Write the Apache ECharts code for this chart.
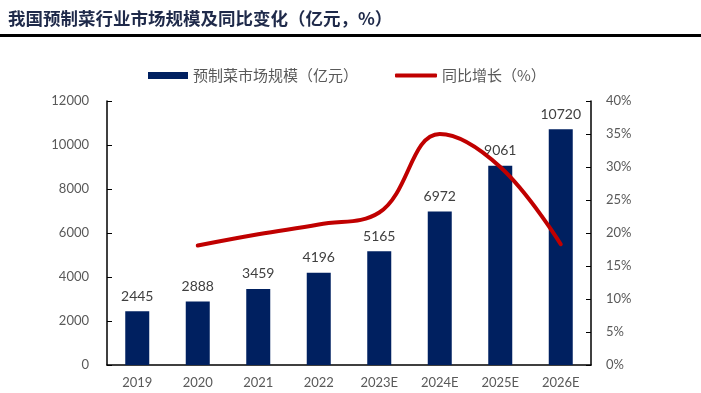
<!DOCTYPE html>
<html><head><meta charset="utf-8">
<script src="https://cdn.jsdelivr.net/npm/echarts@6/dist/echarts.min.js"></script>
<style>html,body{margin:0;padding:0;background:#fff}#c{width:701px;height:393px}</style>
</head><body><div id="c"></div>
<script>
const categories = ['2019','2020','2021','2022','2023E','2024E','2025E','2026E'];
const marketSize = [2445, 2888, 3459, 4196, 5165, 6972, 9061, 10720];
const yoyGrowth = [null, 18.1, 19.8, 21.3, 23.1, 35.0, 30.0, 18.3];
const leftTicks = [0, 2000, 4000, 6000, 8000, 10000, 12000];
const rightTicks = [0, 5, 10, 15, 20, 25, 30, 35, 40];

const chart = echarts.init(document.getElementById('c'));
const axisColor = '#000';
const labelColor = '#595959';
const numFont = 'Lato, "Open Sans", sans-serif';
const legendText = {fontSize: 15, color: labelColor, fontFamily: '"Noto Sans CJK SC", sans-serif'};
chart.setOption({
  animation: false,
  title: {
    text: '我国预制菜行业市场规模及同比变化（亿元，%）',
    left: 3, top: 5,
    textStyle: {fontSize: 17.5, fontWeight: 'bold', color: '#1F2A4A', fontFamily: '"Noto Sans CJK SC", sans-serif'}
  },
  graphic: [{
    type: 'rect', shape: {x: 0, y: 34, width: 701, height: 3}, style: {fill: '#000'}
  }],
  legend: [{
    left: 143, top: 63,
    itemWidth: 40, itemHeight: 7,
    textStyle: legendText,
    data: [{name: '预制菜市场规模（亿元）', icon: 'rect'}]
  }, {
    left: 390, top: 63,
    itemWidth: 42, itemHeight: 4,
    textStyle: legendText,
    data: [{name: '同比增长（%）', icon: 'roundRect'}]
  }],
  grid: {left: 107, right: 110, top: 101, bottom: 28},
  xAxis: {
    type: 'category', data: categories,
    axisLine: {lineStyle: {color: axisColor, width: 1.5}},
    axisTick: {inside: true, length: 5, lineStyle: {color: axisColor}},
    axisLabel: {color: labelColor, fontSize: 13, fontFamily: numFont, margin: 11}
  },
  yAxis: [{
    type: 'value', min: 0, max: 12000, interval: 2000,
    splitLine: {show: false},
    axisLine: {show: true, lineStyle: {color: axisColor, width: 1.5}},
    axisTick: {show: true, inside: true, length: 5, lineStyle: {color: axisColor}},
    axisLabel: {color: labelColor, fontSize: 13, fontFamily: numFont, margin: 18,
      formatter: v => leftTicks.includes(v) ? String(v) : ''}
  }, {
    type: 'value', min: 0, max: 40, interval: 5,
    splitLine: {show: false},
    axisLine: {show: true, lineStyle: {color: axisColor, width: 1.5}},
    axisTick: {show: true, inside: true, length: 5, lineStyle: {color: axisColor}},
    axisLabel: {color: labelColor, fontSize: 13, fontFamily: numFont, margin: 15,
      formatter: v => rightTicks.includes(v) ? v + '%' : ''}
  }],
  series: [{
    name: '预制菜市场规模（亿元）', type: 'bar', data: marketSize, barWidth: 24,
    itemStyle: {color: '#002060'},
    label: {show: true, position: 'top', distance: 8, color: '#404040', fontSize: 14, fontFamily: numFont}
  }, {
    name: '同比增长（%）', type: 'line', yAxisIndex: 1, data: yoyGrowth,
    smooth: 0.4, symbol: 'none',
    lineStyle: {color: '#C00000', width: 4, cap: 'round'},
    itemStyle: {color: '#C00000'}
  }]
});
</script></body></html>
